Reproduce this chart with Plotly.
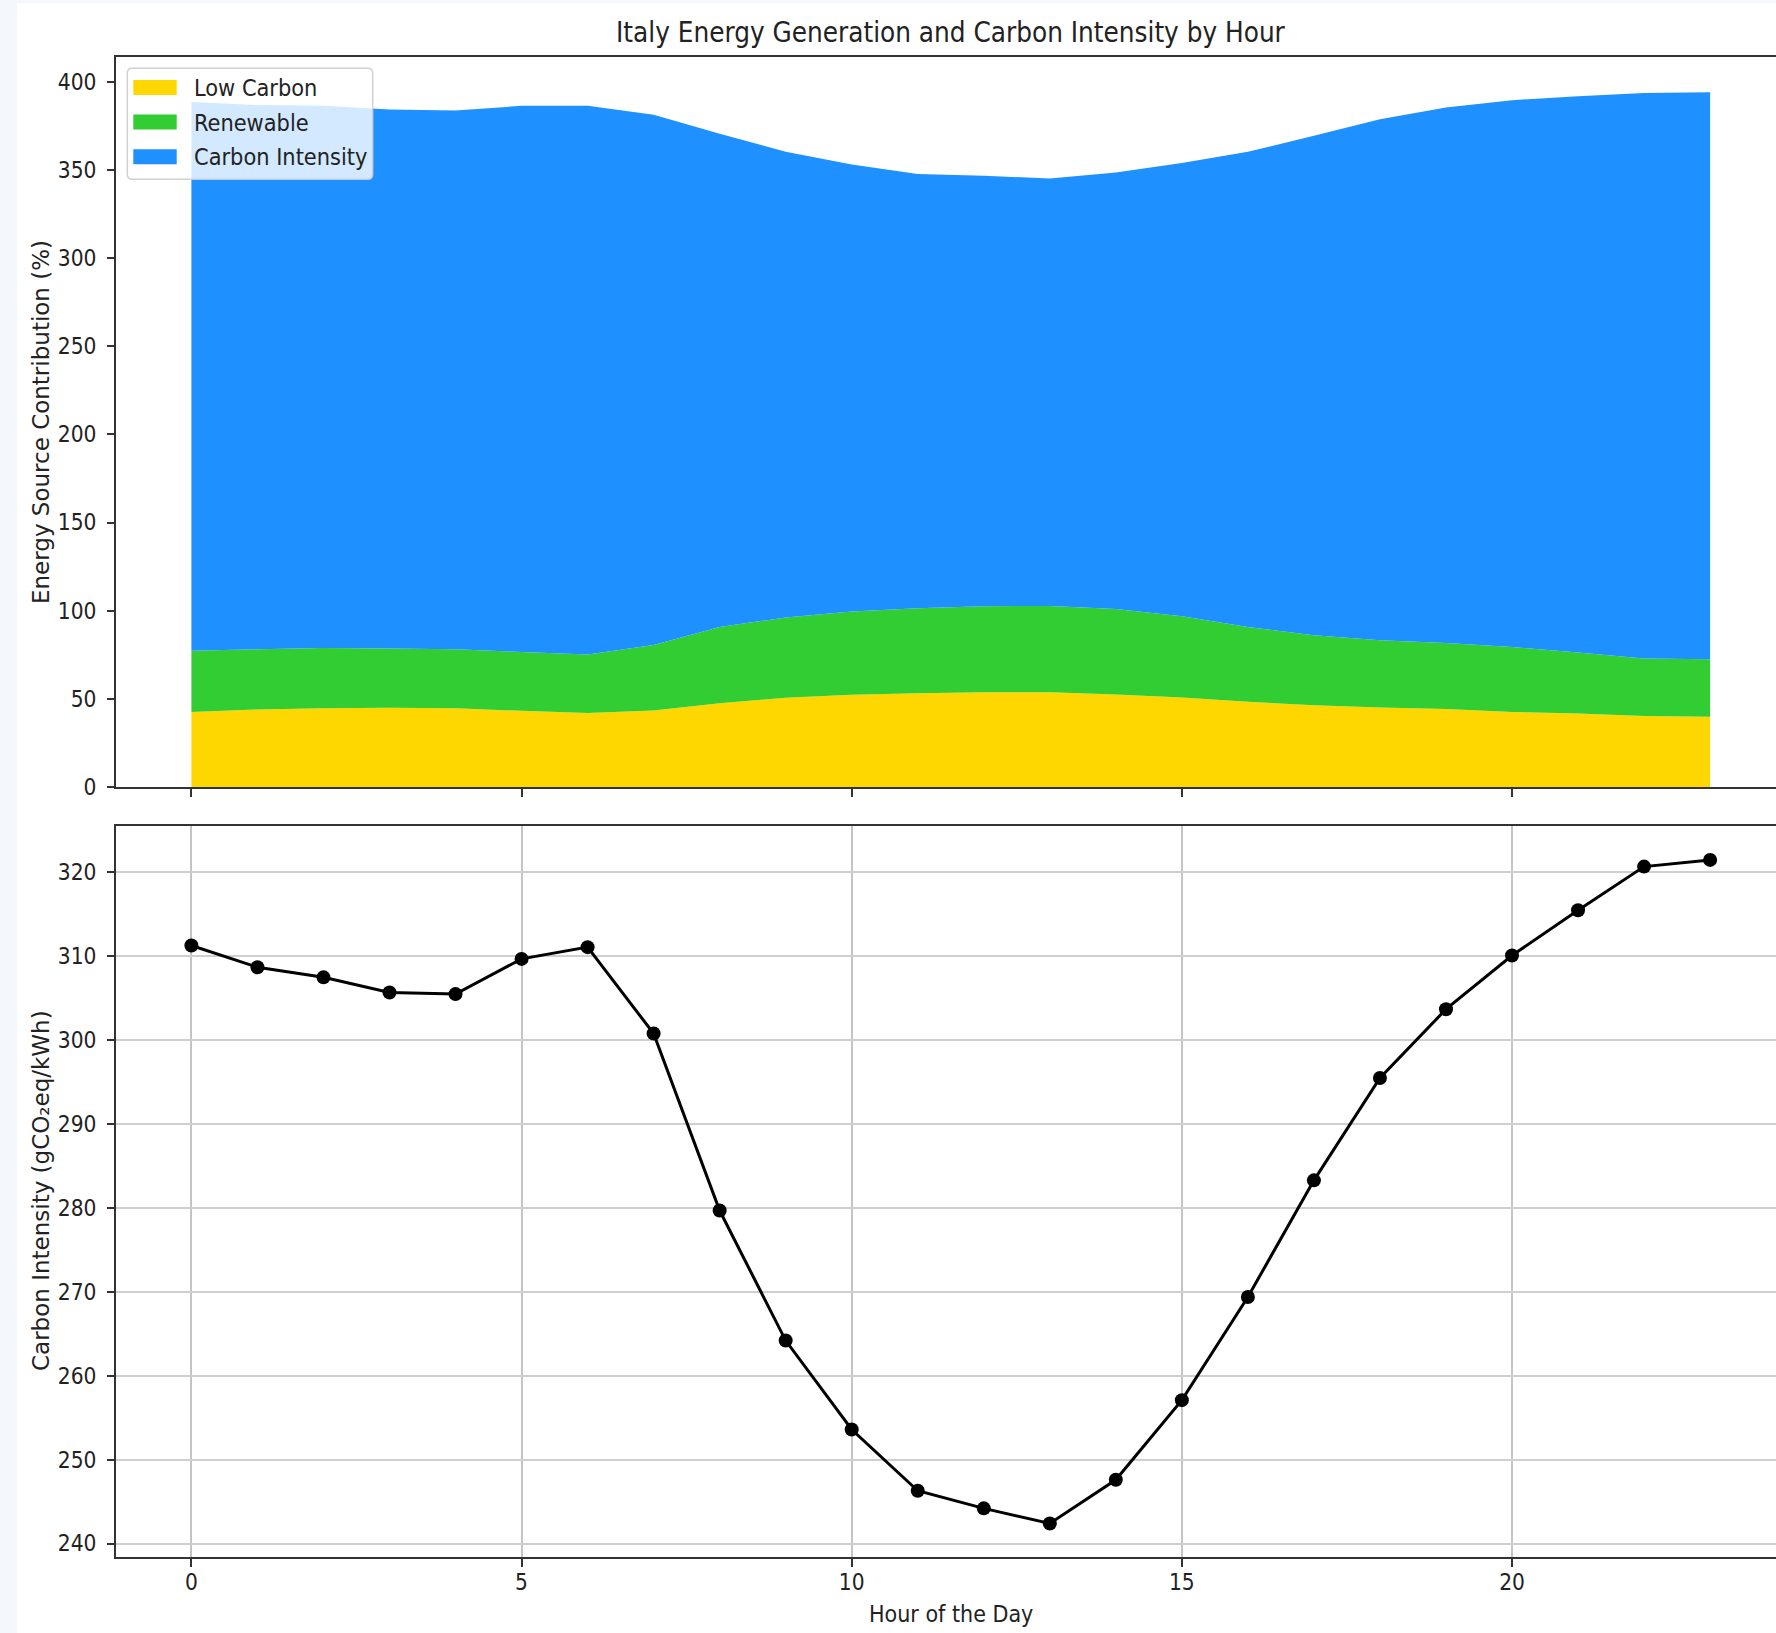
import plotly.graph_objects as go

# ---- data ----
hours = list(range(24))
low_carbon = [42.6, 44.0, 44.6, 44.9, 44.6, 43.2, 41.9, 43.4, 47.5, 50.6, 52.3, 53.2,
              53.8, 53.8, 52.5, 50.8, 48.3, 46.4, 45.1, 44.2, 42.6, 41.7, 40.2, 39.8]
renewable = [34.6, 34.1, 34.3, 33.6, 33.5, 33.4, 33.3, 37.1, 43.3, 45.5, 47.2, 48.2,
             48.7, 48.9, 48.4, 46.0, 42.5, 39.6, 38.1, 37.5, 36.8, 34.6, 32.7, 32.7]
carbon_intensity = [311.3, 308.7, 307.5, 305.7, 305.5, 309.7, 311.1, 300.8, 279.7, 264.2,
                    253.6, 246.3, 244.2, 242.4, 247.6, 257.1, 269.4, 283.3, 295.5, 303.7,
                    310.1, 315.5, 320.7, 321.5]
series_names = ["Low Carbon", "Renewable", "Carbon Intensity"]
x_ticks = [0, 5, 10, 15, 20]

# ---- styling ----
W, H = 1776, 1633
ML, MR, MT, MB = 116, 0, 57, 76
PW, PH = W - ML - MR, H - MT - MB
COND = "DejaVu Sans Condensed, DejaVu Sans, sans-serif"
REG = "DejaVu Sans, sans-serif"
TXT = "#222222"
SPINE = "#333333"
colors = ["#FFD700", "#32CD32", "#1E90FF"]


def px_x(px):
    return (px - ML) / PW


def px_y(py):
    return (H - MB - py) / PH


fig = go.Figure()
for name, vals, col in zip(series_names, [low_carbon, renewable, carbon_intensity], colors):
    fig.add_trace(go.Scatter(
        x=hours, y=vals, name=name, stackgroup="one", mode="none",
        fillcolor=col, showlegend=False, xaxis="x", yaxis="y"))

fig.add_trace(go.Scatter(
    x=hours, y=carbon_intensity, mode="lines+markers", showlegend=False,
    line=dict(color="black", width=3), marker=dict(color="black", size=14),
    xaxis="x2", yaxis="y2"))

xrange = [-1.142, 23.998]
common_x = dict(range=xrange, tickvals=x_ticks, ticks="outside", ticklen=8, tickwidth=2,
                tickcolor=SPINE, showline=True, linecolor=SPINE, linewidth=2, mirror=True,
                zeroline=False, automargin=False,
                tickfont=dict(family=COND, size=22.5, color=TXT), ticklabelstandoff=-4)
common_y = dict(ticks="outside", ticklen=7, tickwidth=2, tickcolor=SPINE, showline=True,
                linecolor=SPINE, linewidth=2, mirror=False, zeroline=False, automargin=False,
                tickfont=dict(family=COND, size=22.5, color=TXT), ticklabelstandoff=6)

top_dom = [px_y(787), 1]
bot_dom = [0, px_y(826)]

# ---- legend (drawn as a matplotlib-style box) ----
LX0, LX1, LY0, LY1 = 127.3, 372.7, 68.3, 179.3
rx, ry = 5 / PW, 5 / PH
bx0, bx1, by0, by1 = px_x(LX0), px_x(LX1), px_y(LY1), px_y(LY0)
box_path = (f"M{bx0 + rx},{by1} L{bx1 - rx},{by1} Q{bx1},{by1} {bx1},{by1 - ry} "
            f"L{bx1},{by0 + ry} Q{bx1},{by0} {bx1 - rx},{by0} "
            f"L{bx0 + rx},{by0} Q{bx0},{by0} {bx0},{by0 + ry} "
            f"L{bx0},{by1 - ry} Q{bx0},{by1} {bx0 + rx},{by1} Z")
shapes = [
    dict(type="rect", xref="paper", yref="paper", layer="below",
         x0=px_x(17), x1=1.02, y0=px_y(H + 5), y1=px_y(3.5),
         fillcolor="white", line=dict(width=0)),
    dict(type="path", xref="paper", yref="paper", path=box_path,
         fillcolor="rgba(255,255,255,0.8)", line=dict(color="rgba(204,204,204,0.9)", width=1.5)),
]
row_centers = [87.5, 122.0, 156.7]
annotations = []
for name, col, cy in zip(series_names, colors, row_centers):
    shapes.append(dict(type="rect", xref="paper", yref="paper",
                       x0=px_x(133.3), x1=px_x(176.7), y0=px_y(cy + 7.5), y1=px_y(cy - 7.5),
                       fillcolor=col, line=dict(width=0)))
    annotations.append(dict(text=name, xref="paper", yref="paper", x=px_x(191.5), y=px_y(cy),
                            xanchor="left", yanchor="middle", showarrow=False,
                            font=dict(family=COND, size=23.3, color=TXT)))

annotations += [
    dict(text="Italy Energy Generation and Carbon Intensity by Hour",
         xref="paper", yref="paper", x=px_x(950.7), y=px_y(33), xanchor="center",
         yanchor="middle", showarrow=False, font=dict(family=COND, size=27.6, color=TXT)),
    dict(text="Hour of the Day", xref="paper", yref="paper", x=px_x(951), y=px_y(1614),
         xanchor="center", yanchor="middle", showarrow=False,
         font=dict(family=COND, size=23, color=TXT)),
    dict(text="Energy Source Contribution (%)", xref="paper", yref="paper",
         x=px_x(41), y=px_y(422), xanchor="center", yanchor="middle", textangle=-90,
         showarrow=False, font=dict(family=REG, size=23, color=TXT)),
    dict(text="Carbon Intensity (gCO\u2082eq/kWh)", xref="paper", yref="paper",
         x=px_x(41), y=px_y(1191), xanchor="center", yanchor="middle", textangle=-90,
         showarrow=False, font=dict(family=REG, size=23, color=TXT)),
]

fig.update_layout(
    width=W, height=H, autosize=False,
    margin=dict(l=ML, r=MR, t=MT, b=MB, pad=0),
    paper_bgcolor="#f4f8fd", plot_bgcolor="white",
    showlegend=False,
    xaxis=dict(domain=[0, 1], anchor="y", showticklabels=False, showgrid=False, **common_x),
    yaxis=dict(domain=top_dom, anchor="x", range=[0, 414], dtick=50, tick0=0,
               showgrid=False, **common_y),
    xaxis2=dict(domain=[0, 1], anchor="y2", showticklabels=True, showgrid=True,
                gridcolor="#c4c4c4", gridwidth=1.5, **common_x),
    yaxis2=dict(domain=bot_dom, anchor="x2", range=[238.4, 325.54], dtick=10, tick0=240,
                showgrid=True, gridcolor="#cfcfcf", gridwidth=2, **common_y),
    shapes=shapes,
    annotations=annotations,
)

fig.write_html("out.html")
